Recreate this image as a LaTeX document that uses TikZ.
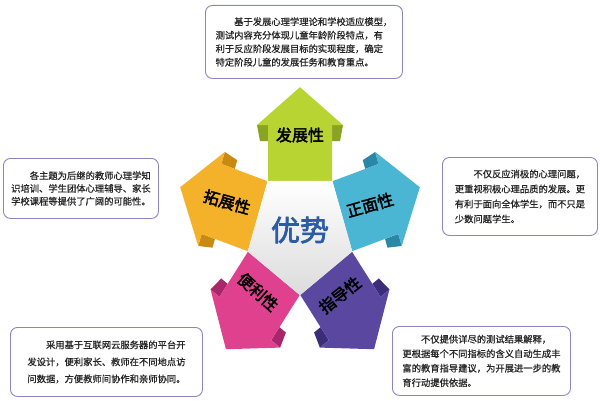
\documentclass[tikz,border=0pt]{standalone}
\usepackage{fontspec}
\usepackage{xcolor}
\usepackage{tikz}
\usetikzlibrary{positioning, calc}
\newfontfamily\cjk[FakeBold=0.7]{Noto Sans CJK SC}
\newfontfamily\cjkbold[FakeBold=2.5]{Noto Sans CJK SC}
\definecolor{limeA}{HTML}{B8D433}
\definecolor{limeB}{HTML}{8AA322}
\definecolor{skyA}{HTML}{4BB6D4}
\definecolor{skyB}{HTML}{2A88A6}
\definecolor{amberA}{HTML}{F4B22A}
\definecolor{amberB}{HTML}{C88A12}
\definecolor{roseA}{HTML}{E0418F}
\definecolor{roseB}{HTML}{A8276A}
\definecolor{violetA}{HTML}{5A47A0}
\definecolor{violetB}{HTML}{3B2D78}
\definecolor{frameC}{HTML}{8B86C3}
\definecolor{titleC}{HTML}{2C5BA8}
\tikzset{
  descbox/.style={draw=frameC, line width=0.9pt, rounded corners=7pt, fill=white,
    align=left, inner sep=0pt, text=black!85, font=\cjk\fontsize{9.3}{13.5}\selectfont},
  armlabel/.style={font=\cjkbold\fontsize{16}{18}\selectfont, text=black, inner sep=0pt},
}
% one arrow: #1 rotation (direction-90), #2 face colour, #3 fold colour
\newcommand{\advarrow}[3]{%
  \begin{scope}[shift={(300,168)}, yscale=1.15, rotate=#1]
    % folds behind the wings
    \fill[#3] (32,93) -- (43,93) -- (40,79) -- (32,79) -- cycle;
    \fill[#3] (-32,93) -- (-43,93) -- (-40,79) -- (-32,79) -- cycle;
    % arrow face
    \fill[#2] (-32,44.5) -- (32,44.5) -- (32,93) -- (43,93) -- (0,126)
      -- (-43,93) -- (-32,93) -- cycle;
  \end{scope}}
\begin{document}
\begin{tikzpicture}[x=1pt, y=1pt]
  \useasboundingbox (0,0) rectangle (600,400);
  % five arrows round the centre
  \advarrow{0}{limeA}{limeB}
  \advarrow{-72}{skyA}{skyB}
  \advarrow{-144}{violetA}{violetB}
  \advarrow{144}{roseA}{roseB}
  \advarrow{72}{amberA}{amberB}
  % centre pentagon
  \begin{scope}[shift={(300,168)}, yscale=1.15]
    \shade[top color=white, bottom color=gray!28]
      (54:55) -- (126:55) -- (198:55) -- (270:55) -- (342:55) -- cycle;
  \end{scope}
  \node[font=\cjkbold\fontsize{29}{31}\selectfont, text=titleC, inner sep=0pt] (core) at (300,170) {优势};
  % arrow labels
  \node[armlabel] (fazhan) at (300,265) {发展性};
  \node[armlabel, rotate=16] (zhengmian) at (370,195) {正面性};
  \node[armlabel, rotate=-16] (tuozhan) at (227,198) {拓展性};
  \node[armlabel, rotate=-42] (bianli) at (258,108) {便利性};
  \node[armlabel, rotate=38] (zhidao) at (340,105) {指导性};
  % text boxes
  \node[descbox, minimum width=197pt, minimum height=73pt, anchor=north west] (topbox) at (205,395)
    {\hspace*{2em}基于发展心理学理论和学校适应模型，\\测试内容充分体现儿童年龄阶段特点，有\\利于反应阶段发展目标的实现程度，确定\\特定阶段儿童的发展任务和教育重点。};
  \node[descbox, minimum width=155pt, minimum height=60pt, anchor=north west,
    font=\cjk\fontsize{9.3}{12.8}\selectfont] (leftbox) at (3,242)
    {\hspace*{2em}各主题为后继的教师心理学知\\识培训、学生团体心理辅导、家长\\学校课程等提供了广阔的可能性。};
  \node[descbox, minimum width=155pt, minimum height=78pt, anchor=north west,
    font=\cjk\fontsize{9.3}{15}\selectfont] (rightbox) at (442,243)
    {\hspace*{2em}不仅反应消极的心理问题，\\更重视积极心理品质的发展。更\\有利于面向全体学生，而不只是\\少数问题学生。};
  \node[descbox, minimum width=192pt, minimum height=69pt, anchor=north west,
    font=\cjk\fontsize{9.3}{17}\selectfont] (botleft) at (10,73)
    {\hspace*{2em}采用基于互联网云服务器的平台开\\发设计，便利家长、教师在不同地点访\\问数据，方便教师间协作和亲师协同。};
  \node[descbox, minimum width=178pt, minimum height=69pt, anchor=north west,
    font=\cjk\fontsize{9.3}{14.5}\selectfont] (botright) at (392,74)
    {\hspace*{2em}不仅提供详尽的测试结果解释，\\更根据每个不同指标的含义自动生成丰\\富的教育指导建议，为开展进一步的教\\育行动提供依据。};
\end{tikzpicture}
\end{document}
